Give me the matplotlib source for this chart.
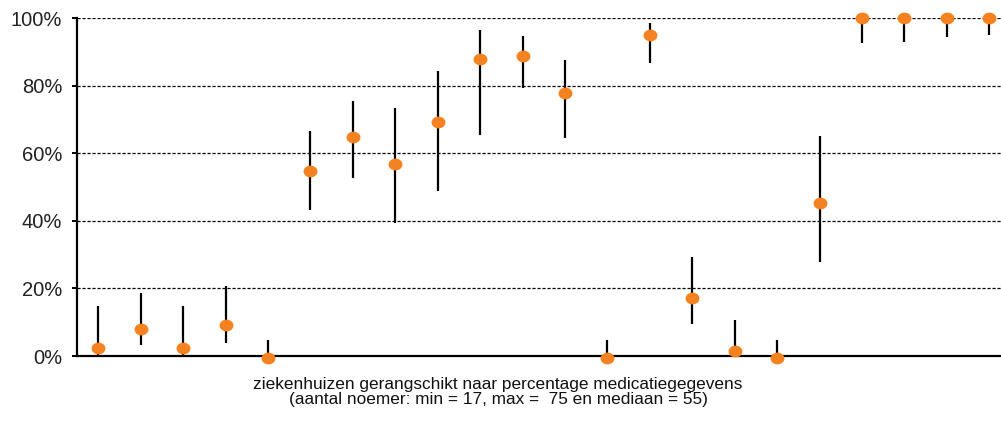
import matplotlib
matplotlib.use("Agg")
import matplotlib.pyplot as plt
from matplotlib.path import Path
from matplotlib.transforms import Affine2D
import numpy as np

plt.rcParams['font.family'] = ['Liberation Sans', 'DejaVu Sans']

# Data (percentages)
values = [2.3, 8.1, 2.5, 9.1, -0.5, 54.7, 64.9, 56.8, 69.2, 87.9, 88.8, 77.9,
          -0.5, 94.9, 17.1, 1.6, -0.5, 45.4, 100.0, 100.0, 100.0, 100.0]
lower = [0.3, 3.3, 0.3, 3.9, 0.0, 43.2, 52.8, 39.3, 48.9, 65.5, 79.4, 64.6,
         0.0, 86.8, 9.6, 0.0, 0.0, 27.9, 92.7, 93.0, 94.5, 95.1]
upper = [14.8, 18.5, 14.8, 20.7, 4.7, 66.6, 75.4, 73.3, 84.3, 96.4, 94.7, 87.6,
         4.7, 98.6, 29.3, 10.7, 4.7, 65.1, 100.0, 100.0, 100.0, 100.0]
yticks = [0, 20, 40, 60, 80, 100]
ytick_labels = ['0%', '20%', '40%', '60%', '80%', '100%']
xlabel_text = ("ziekenhuizen gerangschikt naar percentage medicatiegegevens\n"
               "(aantal noemer: min = 17, max =  75 en mediaan = 55)")

W, H = 1001, 421
fig = plt.figure(figsize=(W / 100, H / 100), dpi=100)
x0, x1 = 77, 1010.5
y_top, y_bot = 18, 356
ax = fig.add_axes([x0 / W, (H - y_bot) / H, (x1 - x0) / W, (y_bot - y_top) / H])

n = len(values)
x = np.arange(n)
ax.set_xlim(-0.5, n - 0.5)
ax.set_ylim(0, 100)

# gridlines
for t in yticks[1:]:
    ax.axhline(t, color='black', lw=0.9, dashes=(2.5, 1.5), zorder=1)

# whiskers
ax.vlines(x, lower, upper, color='black', lw=1.6, zorder=2)

# elliptical marker
circ = Path.unit_circle()
ell = circ.transformed(Affine2D().scale(1.0, 0.83))
ax.plot(x, values, linestyle='none', marker=ell, ms=9, color='#F58220',
        mec='#F58220', zorder=3, clip_on=False)

for s in ['top', 'right']:
    ax.spines[s].set_visible(False)
ax.spines['left'].set_linewidth(1.6)
ax.spines['bottom'].set_linewidth(1.6)

ax.set_xticks([])
ax.set_yticks(yticks)
ax.set_yticklabels(ytick_labels, fontsize=14.5, color='#222222')
ax.tick_params(axis='y', length=3.6, width=1.4, pad=7)

fig.text(498 / W, 1 - 392 / H, xlabel_text, ha='center', va='center',
         fontsize=12.4, linespacing=1.02, color='#111111')

fig.savefig('out.png', dpi=100)
